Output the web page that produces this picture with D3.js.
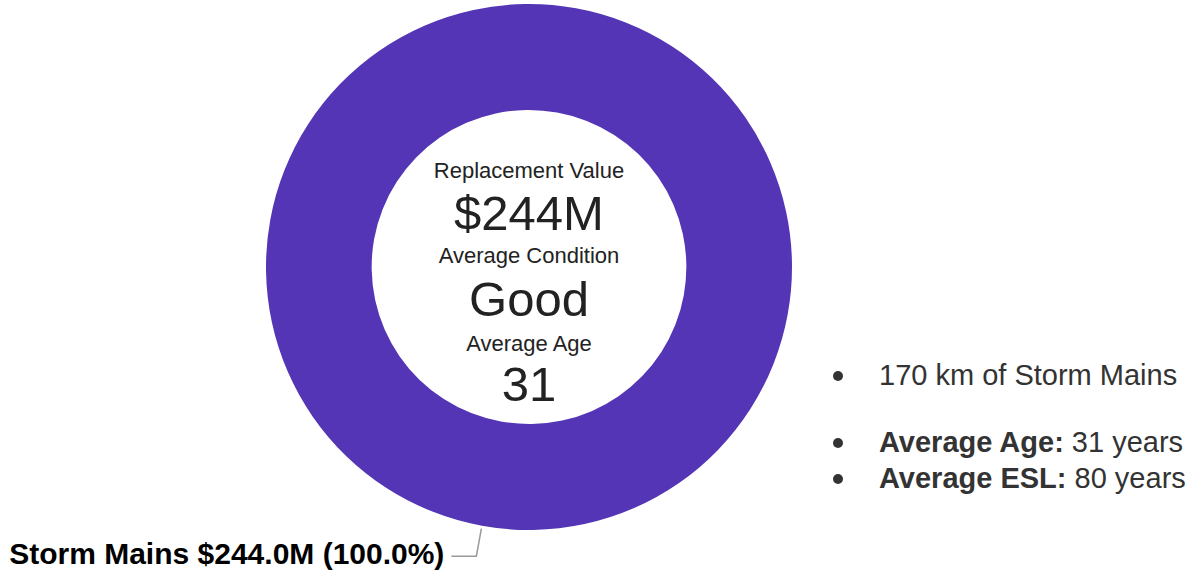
<!DOCTYPE html>
<html>
<head>
<meta charset="utf-8">
<script src="https://cdn.jsdelivr.net/npm/d3@7"></script>
<style>
  body { margin: 0; background: #fff; font-family: "Liberation Sans", Arial, sans-serif; }
  svg { display: block; }
</style>
</head>
<body>
<div id="chart"></div>
<script>
// Data
const categories = ["Storm Mains"];
const values = [244.0];            // $M
const colors = ["#5335b5"];

const centerLabels = ["Replacement Value", "Average Condition", "Average Age"];
const centerValues = ["$244M", "Good", "31"];

const notes = [
    { bold: "", text: "170 km of Storm Mains" },
    { bold: "Average Age:", text: " 31 years" },
    { bold: "Average ESL:", text: " 80 years" }
];

const width = 1187, height = 571;
const cx = 529, cy = 267;
const outerR = 263, innerR = 157;

const svg = d3.select("#chart")
    .append("svg")
    .attr("width", width)
    .attr("height", height)
    .style("font-family", "'Liberation Sans', Arial, sans-serif");

const g = svg.append("g")
    .attr("transform", "translate(" + cx + "," + cy + ")");

const total = d3.sum(values);
const a0 = 0.18; // rotation so the label sits just left of bottom
const pie = d3.pie().sort(null).startAngle(a0).endAngle(a0 + 2 * Math.PI);
const arcs = pie(values);

const arc = d3.arc().innerRadius(innerR).outerRadius(outerR);

g.selectAll(".slice")
    .data(arcs)
    .enter()
    .append("path")
    .attr("class", "slice")
    .attr("d", arc)
    .attr("fill", (d, i) => colors[i]);

// Leader lines + labels
arcs.forEach(function(d, i) {
    const mid = (d.startAngle + d.endAngle) / 2;
    const p0 = [Math.sin(mid) * (outerR + 3), -Math.cos(mid) * (outerR + 3)];
    const p1 = [Math.sin(mid) * (outerR + 31), -Math.cos(mid) * (outerR + 31)];
    const p2 = [p1[0] - 25, p1[1]];

    g.append("polyline")
        .attr("points", [p0, p1, p2].map(p => p.join(",")).join(" "))
        .attr("fill", "none")
        .attr("stroke", "#999")
        .attr("stroke-width", 1.5);

    g.append("text")
        .attr("x", p2[0] - 7)
        .attr("y", p2[1] + 8)
        .attr("text-anchor", "end")
        .style("font-size", "30px")
        .style("font-weight", "bold")
        .attr("fill", "#000")
        .text(categories[i] + " $" + values[i].toFixed(1) + "M (" + (values[i] / total * 100).toFixed(1) + "%)");
});

// Center text
const labelY = [-89, -4, 84];
const valueY = [-37, 49, 134];
centerLabels.forEach(function(t, i) {
    g.append("text")
        .attr("x", 0)
        .attr("y", labelY[i])
        .attr("text-anchor", "middle")
        .style("font-size", "22px")
        .attr("fill", "#222")
        .text(t);
    g.append("text")
        .attr("x", 0)
        .attr("y", valueY[i])
        .attr("text-anchor", "middle")
        .style("font-size", "49px")
        .attr("fill", "#222")
        .text(centerValues[i]);
});

// Notes list on the right
const noteY = [385, 452, 488];
notes.forEach(function(n, i) {
    svg.append("circle")
        .attr("cx", 838)
        .attr("cy", noteY[i] - 9)
        .attr("r", 5)
        .attr("fill", "#333");
    const t = svg.append("text")
        .attr("x", 879)
        .attr("y", noteY[i])
        .style("font-size", "29px")
        .attr("fill", "#333");
    if (n.bold) t.append("tspan").style("font-weight", "bold").text(n.bold);
    t.append("tspan").text(n.text);
});
</script>
</body>
</html>
